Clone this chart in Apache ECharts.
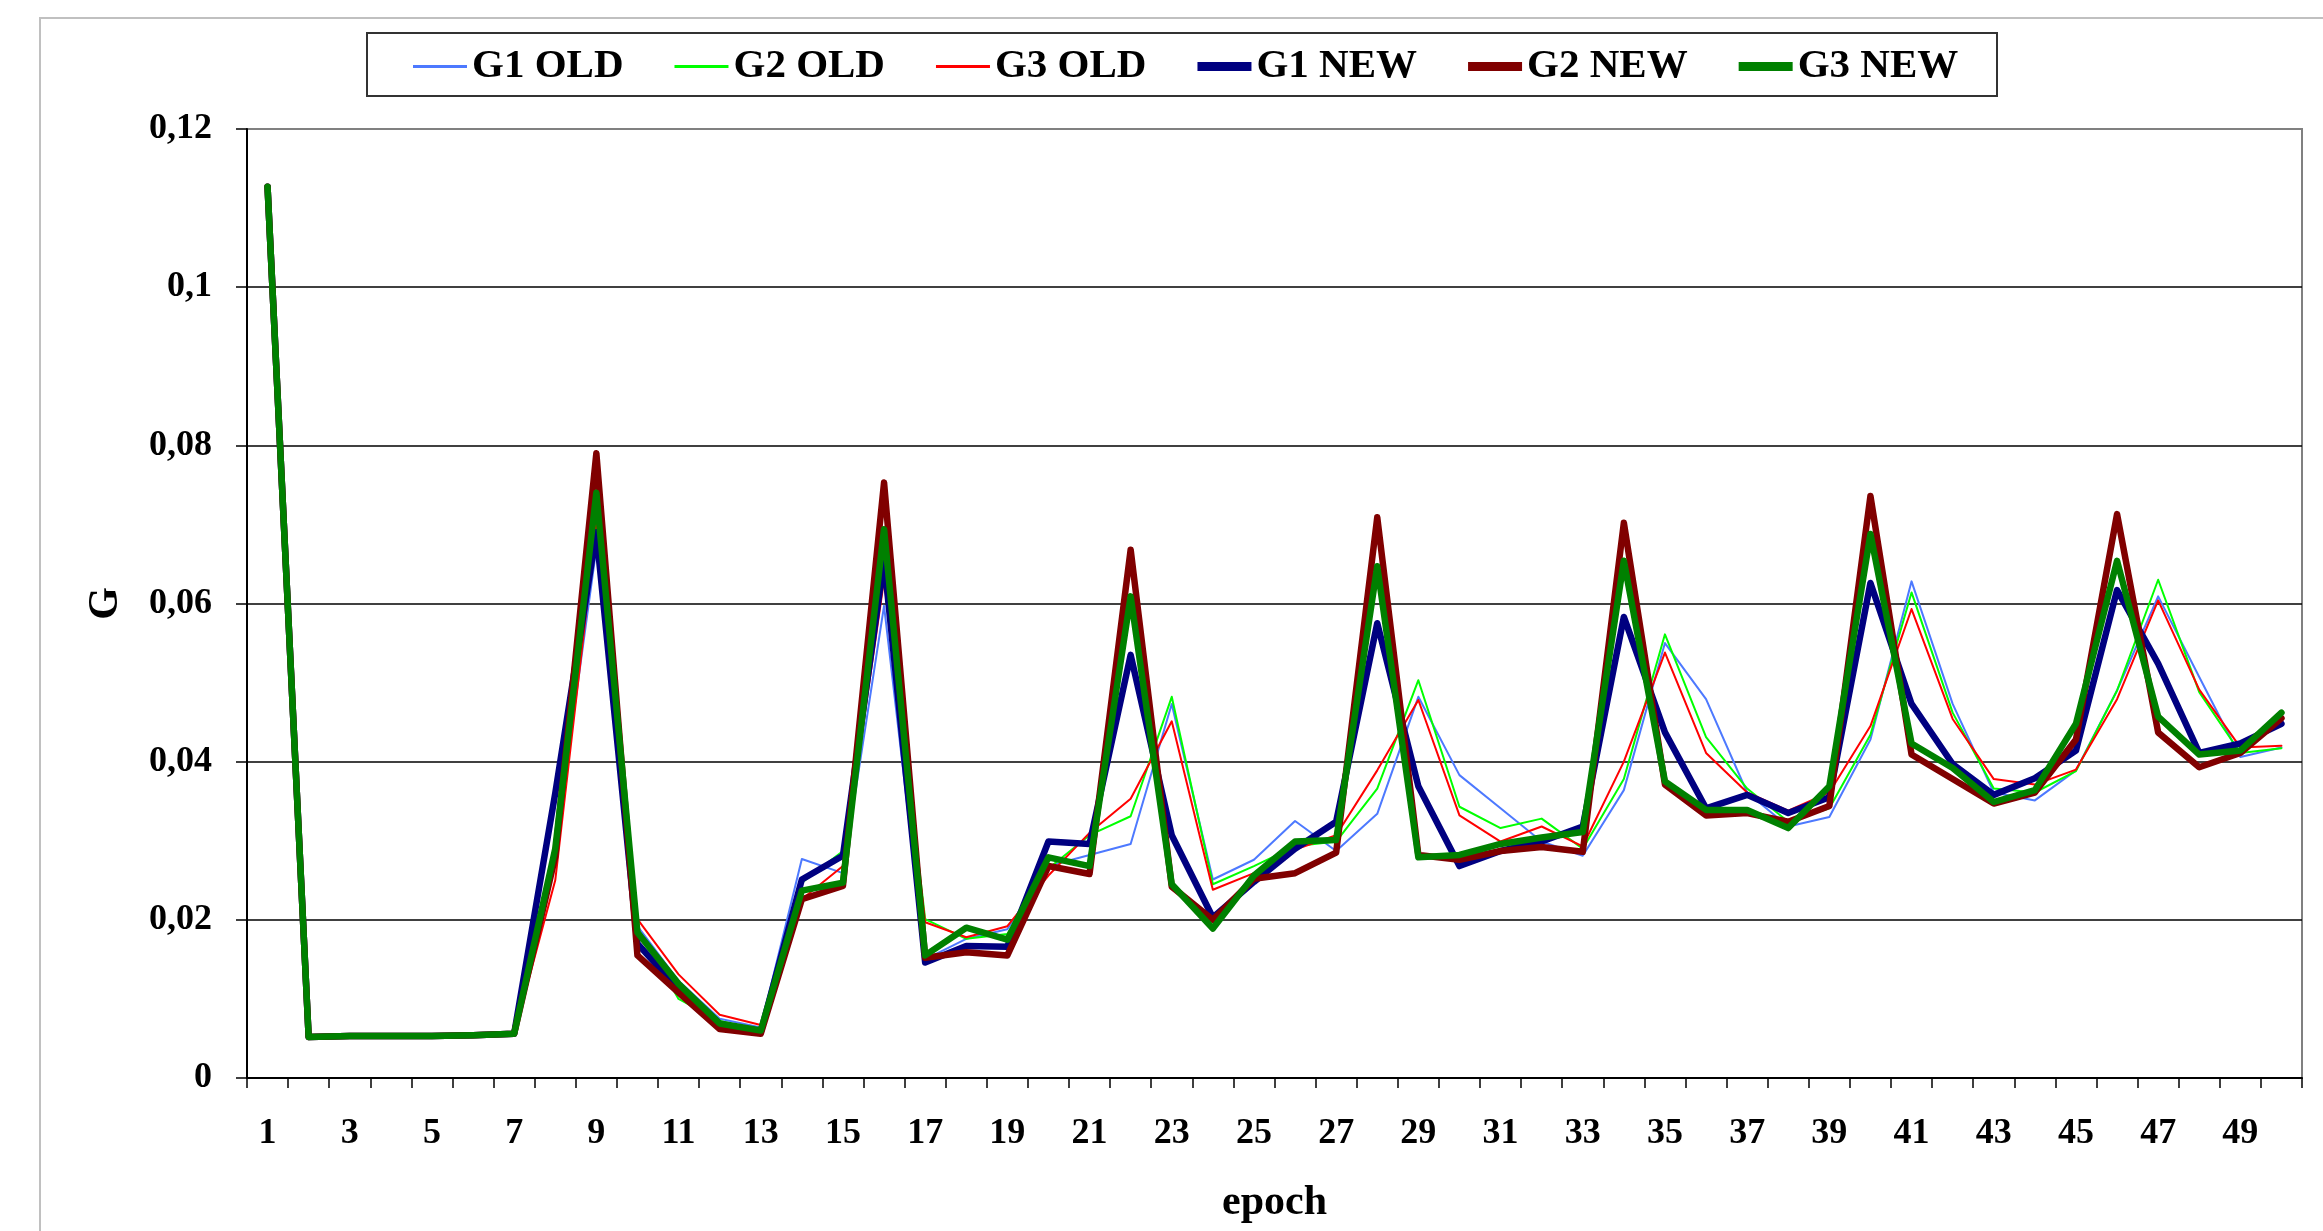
<!DOCTYPE html>
<html>
<head>
<meta charset="utf-8">
<style>
  html, body { margin: 0; padding: 0; background: #fff; }
  #chart { width: 2323px; height: 1231px; }
</style>
<script src="https://cdn.jsdelivr.net/npm/echarts@6/dist/echarts.min.js"></script>
</head>
<body>
<div id="chart"></div>
<script>
const epochs = ['1','2','3','4','5','6','7','8','9','10','11','12','13','14','15','16','17','18','19','20',
  '21','22','23','24','25','26','27','28','29','30','31','32','33','34','35','36','37','38','39','40',
  '41','42','43','44','45','46','47','48','49','50'];

const g1Old = [0.1127,0.0052,0.0053,0.0053,0.0053,0.0054,0.0056,0.029,0.067,0.0192,
  0.0123,0.0075,0.0064,0.0277,0.0259,0.0597,0.015,0.0176,0.0188,0.0268,
  0.0282,0.0296,0.0473,0.0251,0.0276,0.0325,0.0287,0.0334,0.0482,0.0383,
  0.0341,0.0299,0.0281,0.0364,0.055,0.0479,0.0361,0.0318,0.033,0.0428,
  0.0628,0.0473,0.0361,0.0351,0.0389,0.049,0.0609,0.0507,0.0406,0.0418];
const g2Old = [0.1127,0.0052,0.0053,0.0053,0.0053,0.0054,0.0056,0.028,0.071,0.019,
  0.010,0.0072,0.006,0.0247,0.0287,0.0647,0.0201,0.0176,0.0182,0.0265,
  0.0307,0.0331,0.0482,0.0245,0.0268,0.0293,0.0299,0.0366,0.0503,0.0343,
  0.0316,0.0328,0.029,0.0378,0.0561,0.0431,0.0366,0.0324,0.0341,0.0434,
  0.0614,0.0462,0.0366,0.0361,0.0388,0.049,0.063,0.0488,0.0411,0.0417];
const g3Old = [0.1127,0.0052,0.0053,0.0053,0.0053,0.0054,0.0056,0.025,0.070,0.0201,
  0.0131,0.008,0.0067,0.0226,0.0268,0.063,0.0197,0.0178,0.0192,0.0256,
  0.031,0.0353,0.0451,0.0238,0.0259,0.0289,0.0307,0.0389,0.0478,0.0332,
  0.0299,0.0318,0.0293,0.040,0.0538,0.0411,0.0361,0.0338,0.0361,0.0445,
  0.0593,0.0454,0.0378,0.0371,0.039,0.0479,0.0604,0.0491,0.0418,0.042];
const g1New = [0.1127,0.0052,0.0053,0.0053,0.0053,0.0054,0.0056,0.036,0.069,0.017,
  0.0112,0.0067,0.0058,0.0251,0.0281,0.0655,0.0146,0.0167,0.0166,0.0299,
  0.0296,0.0535,0.0307,0.0203,0.0248,0.029,0.0324,0.0575,0.0369,0.0268,
  0.0287,0.0299,0.0318,0.0583,0.0437,0.0341,0.0358,0.0335,0.0355,0.0626,
  0.0473,0.0397,0.0358,0.0379,0.0414,0.0617,0.0524,0.0411,0.0423,0.0448];
const g2New = [0.1127,0.0052,0.0053,0.0053,0.0053,0.0054,0.0056,0.028,0.079,0.0155,
  0.0108,0.0062,0.0056,0.0226,0.0243,0.0753,0.0152,0.0159,0.0155,0.0268,
  0.0258,0.0668,0.0242,0.020,0.0252,0.0259,0.0285,0.0709,0.0282,0.0276,
  0.0287,0.0292,0.0286,0.0702,0.0371,0.0332,0.0335,0.0324,0.0344,0.0736,
  0.0409,0.0378,0.0347,0.0361,0.0428,0.0713,0.0437,0.0393,0.0411,0.0455];
const g3New = [0.1127,0.0052,0.0053,0.0053,0.0053,0.0054,0.0056,0.029,0.074,0.0184,
  0.0119,0.0069,0.006,0.0237,0.0247,0.0694,0.0155,0.019,0.0175,0.0279,
  0.0268,0.0609,0.0245,0.0189,0.0256,0.0299,0.0301,0.0647,0.0279,0.0282,
  0.0296,0.0304,0.0311,0.0654,0.0375,0.0339,0.0339,0.0316,0.0369,0.0688,
  0.0423,0.0392,0.0349,0.0364,0.0448,0.0654,0.0457,0.0409,0.0414,0.0462];

const seriesDefs = [
  { name: 'G1 OLD', data: g1Old, color: '#4d79ff', width: 2 },
  { name: 'G2 OLD', data: g2Old, color: '#00ff00', width: 2 },
  { name: 'G3 OLD', data: g3Old, color: '#ff0000', width: 2 },
  { name: 'G1 NEW', data: g1New, color: '#000080', width: 6.5 },
  { name: 'G2 NEW', data: g2New, color: '#800000', width: 6.5 },
  { name: 'G3 NEW', data: g3New, color: '#008000', width: 6.5 }
];

const FONT = '"Liberation Serif", "Times New Roman", serif';
const chart = echarts.init(document.getElementById('chart'));

// legend icon: a plain bar as thick as the line
const barIcon = w => `path://M0,0H54V${w}H0Z`;

chart.setOption({
  animation: false,
  backgroundColor: '#fff',
  textStyle: { fontFamily: FONT, fontWeight: 'bold', color: '#000' },
  graphic: [
    { type: 'rect', shape: { x: 40, y: 18, width: 2400, height: 1400 },
      style: { fill: 'none', stroke: '#c0c0c0', lineWidth: 2 }, silent: true },
    { type: 'rect', shape: { x: 367, y: 33, width: 1630, height: 63 },
      style: { fill: 'none', stroke: '#333', lineWidth: 2 }, silent: true }
  ],
  legend: {
    left: 413,
    top: 46,
    padding: 0,
    itemWidth: 54,
    itemHeight: 14,
    itemGap: 51,
    textStyle: { fontFamily: FONT, fontWeight: 'bold', fontSize: 41, color: '#000' },
    data: seriesDefs.map(s => ({ name: s.name, icon: barIcon(s.width > 3 ? 9 : 3) }))
  },
  grid: {
    left: 247, right: 21, top: 129, bottom: 153,
    outerBoundsMode: 'none',
    show: true, borderColor: '#808080', borderWidth: 2
  },
  xAxis: {
    type: 'category',
    data: epochs,
    boundaryGap: true,
    name: 'epoch',
    nameLocation: 'middle',
    nameGap: 104,
    nameTextStyle: { fontFamily: FONT, fontWeight: 'bold', fontSize: 42, color: '#000' },
    axisLine: { lineStyle: { color: '#000', width: 2 } },
    axisTick: { show: true, interval: 0, length: 10, lineStyle: { color: '#000', width: 1.5 } },
    axisLabel: { interval: 1, margin: 38, fontFamily: FONT, fontWeight: 'bold', fontSize: 36, color: '#000' },
    splitLine: { show: false }
  },
  yAxis: {
    type: 'value',
    min: 0,
    max: 0.12,
    interval: 0.02,
    name: 'G',
    nameLocation: 'middle',
    nameRotate: 90,
    nameGap: 120,
    nameTextStyle: { fontFamily: FONT, fontWeight: 'bold', fontSize: 42, color: '#000' },
    axisLine: { show: true, lineStyle: { color: '#000', width: 2 } },
    axisTick: { show: true, length: 11, lineStyle: { color: '#000', width: 1.5 } },
    axisLabel: {
      margin: 35, fontFamily: FONT, fontWeight: 'bold', fontSize: 36, color: '#000',
      formatter: v => String(+v.toFixed(2)).replace('.', ',')
    },
    splitLine: {
      show: true,
      lineStyle: { color: ['#000', '#000', '#000', '#000', '#000', '#000', '#808080'], width: 1.5 }
    }
  },
  series: seriesDefs.map(s => ({
    name: s.name,
    type: 'line',
    data: s.data,
    symbol: 'none',
    smooth: false,
    color: s.color,
    lineStyle: { color: s.color, width: s.width, cap: 'round', join: 'round' },
    emphasis: { disabled: true }
  }))
});
</script>
</body>
</html>
